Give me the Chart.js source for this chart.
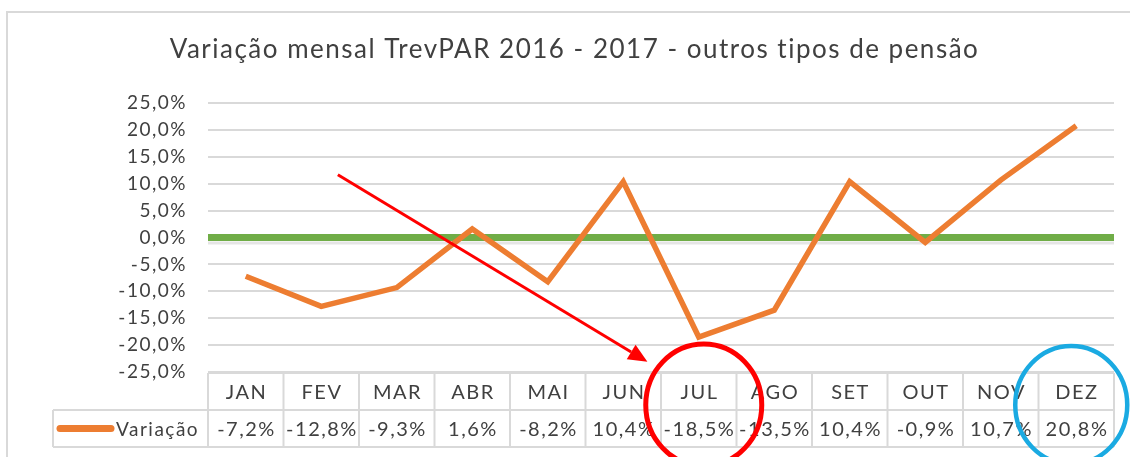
<!DOCTYPE html>
<html>
<head>
<meta charset="utf-8">
<script src="https://cdn.jsdelivr.net/npm/chart.js@4.4.1/dist/chart.umd.min.js"></script>
<style>
  html, body { margin: 0; padding: 0; background: #fff; overflow: hidden; }
  #wrap { position: relative; width: 1130px; height: 457px; }
  #frame { position: absolute; left: 6px; top: 11px; width: 1200px; height: 500px; border: 2px solid #d9d9d9; box-sizing: border-box; }
  canvas { position: absolute; left: 0; top: 0; }
</style>
</head>
<body>
<div id="wrap">
  <div id="frame"></div>
  <canvas id="c" width="1130" height="457"></canvas>
</div>
<script>
const titleText = 'Variação mensal TrevPAR 2016 - 2017 - outros tipos de pensão';
const categories = ['JAN', 'FEV', 'MAR', 'ABR', 'MAI', 'JUN', 'JUL', 'AGO', 'SET', 'OUT', 'NOV', 'DEZ'];
const seriesName = 'Variação';
const variacao = [-7.2, -12.8, -9.3, 1.6, -8.2, 10.4, -18.5, -13.5, 10.4, -0.9, 10.7, 20.8];
const yMin = -25, yMax = 25, yStep = 5;

const fmt = v => v.toFixed(1).replace('.', ',') + '%';
const FONT = 'Lato, "Open Sans", sans-serif';
const GRID = '#d9d9d9';
const ORANGE = '#ED7D31';
const GREEN = '#70AD47';
const TEXT = '#404040';

const spacingPlugin = {
  id: 'spacing',
  beforeLayout(chart) { chart.ctx.letterSpacing = '1.5px'; },
  beforeDraw(chart) { chart.ctx.letterSpacing = '1.5px'; }
};

const tablePlugin = {
  id: 'tableAndNotes',
  beforeDatasetsDraw(chart) {
    const ctx = chart.ctx, ys = chart.scales.y, ca = chart.chartArea;
    const y0 = ys.getPixelForValue(0);
    ctx.save();
    ctx.strokeStyle = 'rgba(0,0,0,0.10)';
    ctx.lineWidth = 3;
    ctx.beginPath();
    ctx.moveTo(ca.left, y0 + 5.5);
    ctx.lineTo(ca.right, y0 + 5.5);
    ctx.stroke();
    ctx.strokeStyle = GREEN;
    ctx.lineWidth = 7;
    ctx.beginPath();
    ctx.moveTo(ca.left, y0);
    ctx.lineTo(ca.right, y0);
    ctx.stroke();
    ctx.restore();
  },
  afterDraw(chart) {
    const ctx = chart.ctx, xs = chart.scales.x, ys = chart.scales.y, ca = chart.chartArea;
    const n = categories.length;
    const colW = (ca.right - ca.left) / n;
    const top = ca.bottom + 1, mid = ca.bottom + 38, bot = ca.bottom + 75;
    const legLeft = 53;
    ctx.save();
    ctx.strokeStyle = GRID;
    ctx.lineWidth = 2;
    ctx.beginPath();
    ctx.moveTo(ca.left, top); ctx.lineTo(ca.right, top);
    ctx.moveTo(legLeft, mid); ctx.lineTo(ca.right, mid);
    ctx.moveTo(legLeft, bot); ctx.lineTo(ca.right, bot);
    ctx.moveTo(legLeft, mid); ctx.lineTo(legLeft, bot);
    for (let i = 0; i <= n; i++) {
      const x = ca.left + i * colW;
      ctx.moveTo(x, top); ctx.lineTo(x, bot);
    }
    ctx.stroke();
    ctx.fillStyle = TEXT;
    ctx.letterSpacing = '1.5px';
    ctx.font = '20px ' + FONT;
    ctx.textAlign = 'center';
    ctx.textBaseline = 'middle';
    categories.forEach((c, i) => {
      const x = xs.getPixelForValue(i) + 0.75;
      ctx.fillText(c, x, (top + mid) / 2 + 1);
      ctx.fillText(fmt(variacao[i]), x, (mid + bot) / 2 + 1);
    });
    // legend
    ctx.strokeStyle = ORANGE;
    ctx.lineWidth = 7;
    ctx.lineCap = 'round';
    ctx.beginPath();
    ctx.moveTo(60, (mid + bot) / 2);
    ctx.lineTo(111, (mid + bot) / 2);
    ctx.stroke();
    ctx.textAlign = 'left';
    ctx.font = '19px ' + FONT;
    ctx.fillText(seriesName, 116, (mid + bot) / 2 + 1);

    // annotations
    ctx.lineCap = 'butt';
    const ax1 = xs.getPixelForValue(1.22), ay1 = ys.getPixelForValue(11.7);
    const ax2 = xs.getPixelForValue(5.32), ay2 = ys.getPixelForValue(-23.1);
    const ang = Math.atan2(ay2 - ay1, ax2 - ax1);
    const hl = 19, hw = 8.5;
    ctx.strokeStyle = '#FF0000';
    ctx.fillStyle = '#FF0000';
    ctx.lineWidth = 3;
    ctx.beginPath();
    ctx.moveTo(ax1, ay1);
    ctx.lineTo(ax2 - hl * Math.cos(ang), ay2 - hl * Math.sin(ang));
    ctx.stroke();
    ctx.beginPath();
    ctx.moveTo(ax2, ay2);
    ctx.lineTo(ax2 - hl * Math.cos(ang) + hw * Math.sin(ang), ay2 - hl * Math.sin(ang) - hw * Math.cos(ang));
    ctx.lineTo(ax2 - hl * Math.cos(ang) - hw * Math.sin(ang), ay2 - hl * Math.sin(ang) + hw * Math.cos(ang));
    ctx.closePath();
    ctx.fill();

    ctx.lineWidth = 5;
    ctx.strokeStyle = '#FF0000';
    ctx.beginPath();
    ctx.ellipse(xs.getPixelForValue(6) + 5, ca.bottom + 33, 58, 61, 0, 0, Math.PI * 2);
    ctx.stroke();
    ctx.strokeStyle = '#1AAAE2';
    ctx.lineWidth = 4.5;
    ctx.beginPath();
    ctx.ellipse(xs.getPixelForValue(11) - 5, ca.bottom + 33, 56, 59, 0, 0, Math.PI * 2);
    ctx.stroke();
    ctx.restore();
  }
};

new Chart(document.getElementById('c'), {
  type: 'line',
  data: {
    labels: categories,
    datasets: [{
      label: seriesName,
      data: variacao,
      borderColor: ORANGE,
      backgroundColor: ORANGE,
      borderWidth: 5.5,
      pointRadius: 0,
      tension: 0,
      borderJoinStyle: 'miter'
    }]
  },
  options: {
    responsive: false,
    animation: false,
    layout: { padding: { left: 35, right: 16, top: 0, bottom: 85 } },
    plugins: {
      legend: { display: false },
      tooltip: { enabled: false },
      title: {
        display: true,
        text: titleText,
        color: TEXT,
        font: { family: FONT, size: 26, weight: 'normal' },
        padding: { top: 34, bottom: 38 }
      }
    },
    scales: {
      x: {
        display: false,
        offset: true
      },
      y: {
        min: yMin, max: yMax,
        afterFit: s => { s.width = 173; },
        border: { display: false },
        grid: { color: GRID, lineWidth: 2, drawTicks: false },
        ticks: {
          stepSize: yStep,
          padding: 21,
          color: TEXT,
          font: { family: FONT, size: 19 },
          callback: v => fmt(v)
        }
      }
    }
  },
  plugins: [spacingPlugin, tablePlugin]
});
</script>
</body>
</html>
